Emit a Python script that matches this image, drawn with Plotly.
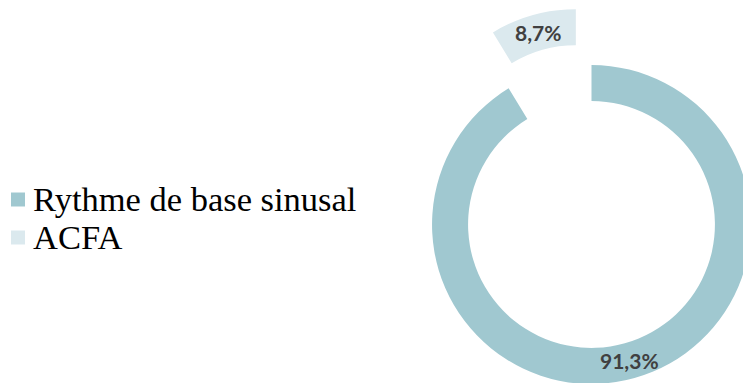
import math
import plotly.graph_objects as go

# Heart rhythm distribution
categories = ["Rythme de base sinusal", "ACFA"]
shares = [91.3, 8.7]
colors = ["#A0C8D0", "#DBE9EE"]
pulls = [0, 0.364]
hole = 0.774

W, H = 820, 450
dom_x = [374 / W, 809 / W]
dom_y = [1 - 442 / H, 1 - 7 / H]

fig = go.Figure(
    go.Pie(
        labels=categories,
        values=shares,
        marker=dict(colors=colors, line=dict(width=0)),
        pull=pulls,
        hole=hole,
        sort=False,
        direction="clockwise",
        rotation=0,
        textinfo="none",
        hoverinfo="label+percent",
        showlegend=False,
        domain=dict(x=dom_x, y=dom_y),
    )
)

# Same ring geometry as the pie layout: centre, radius and slice mid-angles
box_w = W * (dom_x[1] - dom_x[0])
box_h = H * (dom_y[1] - dom_y[0])
cx = W * (dom_x[0] + dom_x[1]) / 2
cy = H * (1 - dom_y[0]) - box_h / 2
radius = min(box_w, box_h) / 2 / (1 + max(pulls))
mid_r = radius * (1 + hole) / 2

total = sum(shares)
start = 0.0
for value, pull in zip(shares, pulls):
    span = 360 * value / total
    mid = math.radians(start + span / 2)
    dist = mid_r + pull * radius
    px = cx + dist * math.sin(mid)
    py = cy - dist * math.cos(mid)
    fig.add_annotation(
        x=px / W, y=1 - py / H, xref="paper", yref="paper",
        text=f"{value / total * 100:.1f}".replace(".", ",") + "%",
        showarrow=False, xanchor="center", yanchor="middle",
        font=dict(family="Lato", size=21, color="#404040", weight="bold"),
    )
    start += span

# Legend entries: colour swatch followed by the category name
row_y = [198.5, 236.5]
for name, color, ry in zip(categories, colors, row_y):
    fig.add_shape(
        type="rect", xref="paper", yref="paper",
        x0=11 / W, x1=25 / W, y0=1 - (ry + 8) / H, y1=1 - (ry - 6) / H,
        fillcolor=color, line=dict(width=0),
    )
    fig.add_annotation(
        x=32 / W, y=1 - ry / H, xref="paper", yref="paper",
        text=name, showarrow=False, xanchor="left", yanchor="middle",
        font=dict(family="Liberation Serif", size=34.5, color="#000000"),
        borderpad=0,
    )

fig.update_layout(
    width=W,
    height=H,
    margin=dict(l=0, r=0, t=0, b=0),
    paper_bgcolor="white",
    plot_bgcolor="white",
    separators=", ",
)

fig.write_html(
    "out.html",
    post_script=(
        "document.documentElement.style.overflow='hidden';"
        "document.body.style.overflow='hidden';"
        "document.body.style.margin='0';"
    ),
)
